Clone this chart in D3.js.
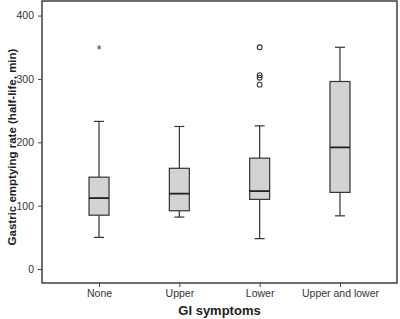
<!DOCTYPE html>
<html>
<head>
<meta charset="utf-8">
<script src="https://cdn.jsdelivr.net/npm/d3@7"></script>
<style>
  body { margin: 0; background: #fff; }
  svg text { font-family: "Liberation Sans", Arial, sans-serif; }
</style>
</head>
<body>
<div id="chart"></div>
<script>
// Data
const categories = ["None", "Upper", "Lower", "Upper and lower"];
const whiskerLow  = [50, 82, 48, 84];
const q1Values    = [85, 92, 110, 121];
const medians     = [112, 119, 123, 192];
const q3Values    = [145, 159, 175, 296];
const whiskerHigh = [233, 225, 226, 350];
// extreme (*) and outlier (o) points
const extremes = [{ cat: "None", value: 349 }];
const outliers = [
    { cat: "Lower", value: 350 },
    { cat: "Lower", value: 306 },
    { cat: "Lower", value: 302 },
    { cat: "Lower", value: 291 }
];
const yTicks = [0, 100, 200, 300, 400];

const boxes = categories.map((c, i) => ({
    cat: c, lo: whiskerLow[i], q1: q1Values[i], med: medians[i], q3: q3Values[i], hi: whiskerHigh[i]
}));

const W = 400, H = 319;
const margin = { top: 1, right: 3, bottom: 36, left: 42 };
const width = W - margin.left - margin.right,
    height = H - margin.top - margin.bottom;

const svg = d3.select("#chart").append("svg")
    .attr("width", W).attr("height", H)
    .append("g")
    .attr("transform", `translate(${margin.left},${margin.top})`);

const xScale = d3.scalePoint().domain(categories).range([0, width]).padding(0.71);
const yScale = d3.scaleLinear().domain([-22, 423]).range([height, 0]);

const axisColor = "#444";

// frame
svg.append("rect")
    .attr("x", 0).attr("y", 0)
    .attr("width", width).attr("height", height)
    .attr("fill", "none")
    .attr("stroke", "#222")
    .attr("stroke-width", 1.3);

// y axis
const yAxisGroup = svg.append("g")
    .call(d3.axisLeft(yScale).tickValues(yTicks).tickSize(4).tickSizeOuter(0));
yAxisGroup.select(".domain").remove();
yAxisGroup.selectAll("line").attr("stroke", axisColor);
yAxisGroup.selectAll("text").attr("font-size", 10.5).attr("fill", "#333").attr("dx", "-1");

// x axis
const xAxisGroup = svg.append("g")
    .attr("transform", `translate(0,${height})`)
    .call(d3.axisBottom(xScale).tickSize(4).tickSizeOuter(0));
xAxisGroup.select(".domain").remove();
xAxisGroup.selectAll("line").attr("stroke", axisColor);
xAxisGroup.selectAll("text").attr("font-size", 10.5).attr("fill", "#333");

// axis titles
svg.append("text")
    .attr("x", width / 2)
    .attr("y", height + 32)
    .attr("text-anchor", "middle")
    .attr("font-size", 13)
    .attr("font-weight", "bold")
    .attr("fill", "#222")
    .text("GI symptoms");

svg.append("text")
    .attr("transform", `translate(-26,${height / 2 + 5}) rotate(-90)`)
    .attr("text-anchor", "middle")
    .attr("font-size", 11.5)
    .attr("font-weight", "bold")
    .attr("fill", "#222")
    .text("Gastric emptying rate (half-life, min)");

// boxes
const boxW = 20, capW = 10;
const g = svg.selectAll(".box").data(boxes).enter().append("g").attr("class", "box");

g.append("line")
    .attr("x1", d => xScale(d.cat)).attr("x2", d => xScale(d.cat))
    .attr("y1", d => yScale(d.hi)).attr("y2", d => yScale(d.q3))
    .attr("stroke", "#333").attr("stroke-width", 1.2);
g.append("line")
    .attr("x1", d => xScale(d.cat)).attr("x2", d => xScale(d.cat))
    .attr("y1", d => yScale(d.q1)).attr("y2", d => yScale(d.lo))
    .attr("stroke", "#333").attr("stroke-width", 1.2);
g.append("line")
    .attr("x1", d => xScale(d.cat) - capW / 2).attr("x2", d => xScale(d.cat) + capW / 2)
    .attr("y1", d => yScale(d.hi)).attr("y2", d => yScale(d.hi))
    .attr("stroke", "#333").attr("stroke-width", 1.2);
g.append("line")
    .attr("x1", d => xScale(d.cat) - capW / 2).attr("x2", d => xScale(d.cat) + capW / 2)
    .attr("y1", d => yScale(d.lo)).attr("y2", d => yScale(d.lo))
    .attr("stroke", "#333").attr("stroke-width", 1.2);
g.append("rect")
    .attr("x", d => xScale(d.cat) - boxW / 2)
    .attr("y", d => yScale(d.q3))
    .attr("width", boxW)
    .attr("height", d => yScale(d.q1) - yScale(d.q3))
    .attr("fill", "#d3d3d3")
    .attr("stroke", "#333").attr("stroke-width", 1.2);
g.append("line")
    .attr("x1", d => xScale(d.cat) - boxW / 2).attr("x2", d => xScale(d.cat) + boxW / 2)
    .attr("y1", d => yScale(d.med)).attr("y2", d => yScale(d.med))
    .attr("stroke", "#222").attr("stroke-width", 1.8);

// outliers
svg.selectAll(".outlier").data(outliers).enter().append("circle")
    .attr("class", "outlier")
    .attr("cx", d => xScale(d.cat))
    .attr("cy", d => yScale(d.value))
    .attr("r", 2.4)
    .attr("fill", "none")
    .attr("stroke", "#333")
    .attr("stroke-width", 1.1);

svg.selectAll(".extreme").data(extremes).enter().append("text")
    .attr("class", "extreme")
    .attr("x", d => xScale(d.cat))
    .attr("y", d => yScale(d.value) + 6)
    .attr("text-anchor", "middle")
    .attr("font-size", 12)
    .attr("fill", "#333")
    .text("*");
</script>
</body>
</html>
